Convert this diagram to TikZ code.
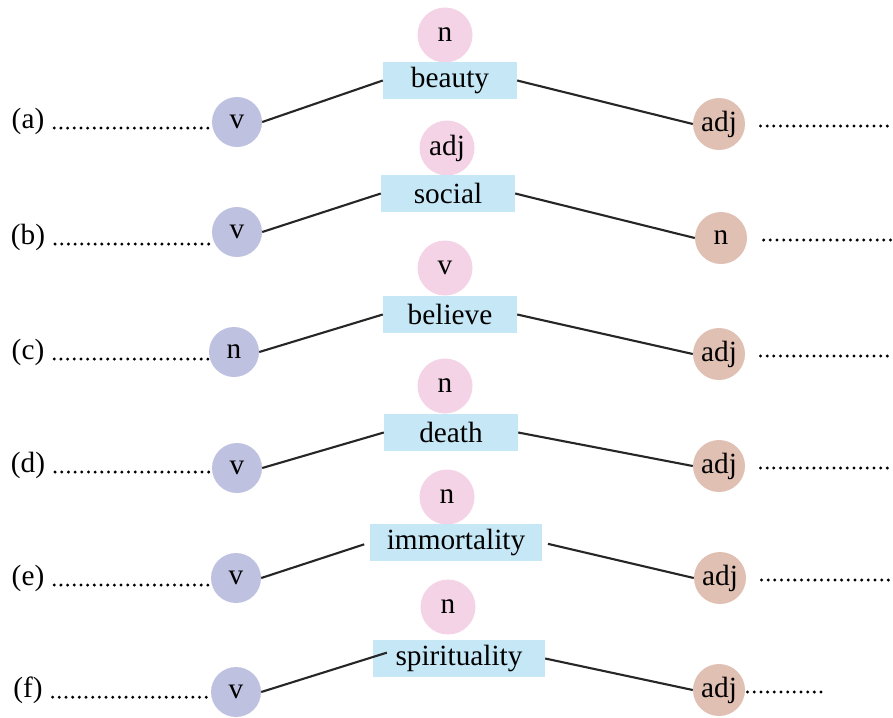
\documentclass[tikz,border=0pt]{standalone}
\usepackage{fontspec}
\setmainfont{Liberation Serif}
\usepackage{tikz}
\usepackage{xcolor}

\definecolor{wordblue}{HTML}{C5E7F6}
\definecolor{pospink}{HTML}{F5D3E6}
\definecolor{posblue}{HTML}{BFC1E1}
\definecolor{posbrown}{HTML}{E1C0B4}

\begin{document}
\begin{tikzpicture}[x=0.03cm,y=-0.03cm,
  font=\fontsize{25}{29}\selectfont,
  word/.style={fill=wordblue,minimum width=4.02cm,minimum height=1.11cm,inner sep=0pt},
  longword/.style={word,minimum width=5.16cm},
  midpos/.style={circle,fill=pospink,minimum size=1.65cm,inner sep=0pt},
  leftpos/.style={circle,fill=posblue,minimum size=1.5cm,inner sep=0pt},
  rightpos/.style={circle,fill=posbrown,minimum size=1.56cm,inner sep=0pt},
  link/.style={line width=1.8pt,draw=black!85},
  dots/.style={line width=2.8pt,line cap=round,dash pattern=on 0pt off 5.7pt}]
  \useasboundingbox (0,0) rectangle (893,717);

  % (a)
  \node (la) at (28,121) {(a)};
  \node[leftpos] (va) at (237,122) {v};
  \node[midpos] (pa) at (445,35) {n};
  \node[word] (wa) at (450,80.5) {beauty};
  \node[rightpos] (ra) at (719,124) {adj};
  \coordinate (ea) at (893,126);
  \draw[link] (va.east) -- (wa.west);
  \draw[link] (wa.east) -- (ra.west);
  \draw[dots,shorten <=5pt] (la.base east) -- (la.base -| va.west);
  \draw[dots,shorten <=13pt] (ra.east |- ea) -- (ea);

  % (b)
  \node (lb) at (28,237) {(b)};
  \node[leftpos] (vb) at (237,232) {v};
  \node[midpos] (pb) at (447,148) {adj};
  \node[word] (wb) at (448,193.5) {social};
  \node[rightpos] (rb) at (721,238) {n};
  \coordinate (eb) at (893,240);
  \draw[link] (vb.east) -- (wb.west);
  \draw[link] (wb.east) -- (rb.west);
  \draw[dots,shorten <=5pt] (lb.base east) -- (lb.base -| vb.west);
  \draw[dots,shorten <=14pt] (rb.east |- eb) -- (eb);

  % (c)
  \node (lc) at (28,352) {(c)};
  \node[leftpos] (vc) at (234,352) {n};
  \node[midpos] (pc) at (445,268) {v};
  \node[word] (wc) at (450,314.5) {believe};
  \node[rightpos] (rc) at (719,354) {adj};
  \coordinate (ec) at (893,356);
  \draw[link] (vc.east) -- (wc.west);
  \draw[link] (wc.east) -- (rc.west);
  \draw[dots,shorten <=5pt] (lc.base east) -- (lc.base -| vc.west);
  \draw[dots,shorten <=13pt] (rc.east |- ec) -- (ec);

  % (d)
  \node (ld) at (28,465) {(d)};
  \node[leftpos] (vd) at (237,468) {v};
  \node[midpos] (pd) at (445,386) {n};
  \node[word] (wd) at (451,432.5) {death};
  \node[rightpos] (rd) at (719,466) {adj};
  \coordinate (ed) at (893,468);
  \draw[link] (vd.east) -- (wd.west);
  \draw[link] (wd.east) -- (rd.west);
  \draw[dots,shorten <=5pt] (ld.base east) -- (ld.base -| vd.west);
  \draw[dots,shorten <=13pt] (rd.east |- ed) -- (ed);

  % (e)
  \node (le) at (28,578) {(e)};
  \node[leftpos] (ve) at (236,578) {v};
  \node[midpos] (pe) at (447,497) {n};
  \node[longword] (we) at (456,542.5) {immortality};
  \node[rightpos] (re) at (720,578) {adj};
  \coordinate (ee) at (893,580);
  \draw[link,shorten >=5pt] (ve.east) -- (we.west);
  \draw[link,shorten <=5pt] (we.east) -- (re.west);
  \draw[dots,shorten <=5pt] (le.base east) -- (le.base -| ve.west);
  \draw[dots,shorten <=13pt] (re.east |- ee) -- (ee);

  % (f)
  \node (lf) at (28,690) {(f)};
  \node[leftpos] (vf) at (236,692) {v};
  \node[midpos] (pf) at (448,607) {n};
  \node[longword] (wf) at (459,658.5) {spirituality};
  \node[rightpos] (rf) at (719,690) {adj};
  \coordinate (ef) at (825,692);
  \draw[link] (vf.east) -- ([xshift=12pt,yshift=5pt]wf.west);
  \draw[link] (wf.east) -- (rf.west);
  \draw[dots,shorten <=5pt] (lf.base east) -- (lf.base -| vf.west);
  \draw[dots,shorten <=2pt] (rf.east |- ef) -- (ef);
\end{tikzpicture}
\end{document}
